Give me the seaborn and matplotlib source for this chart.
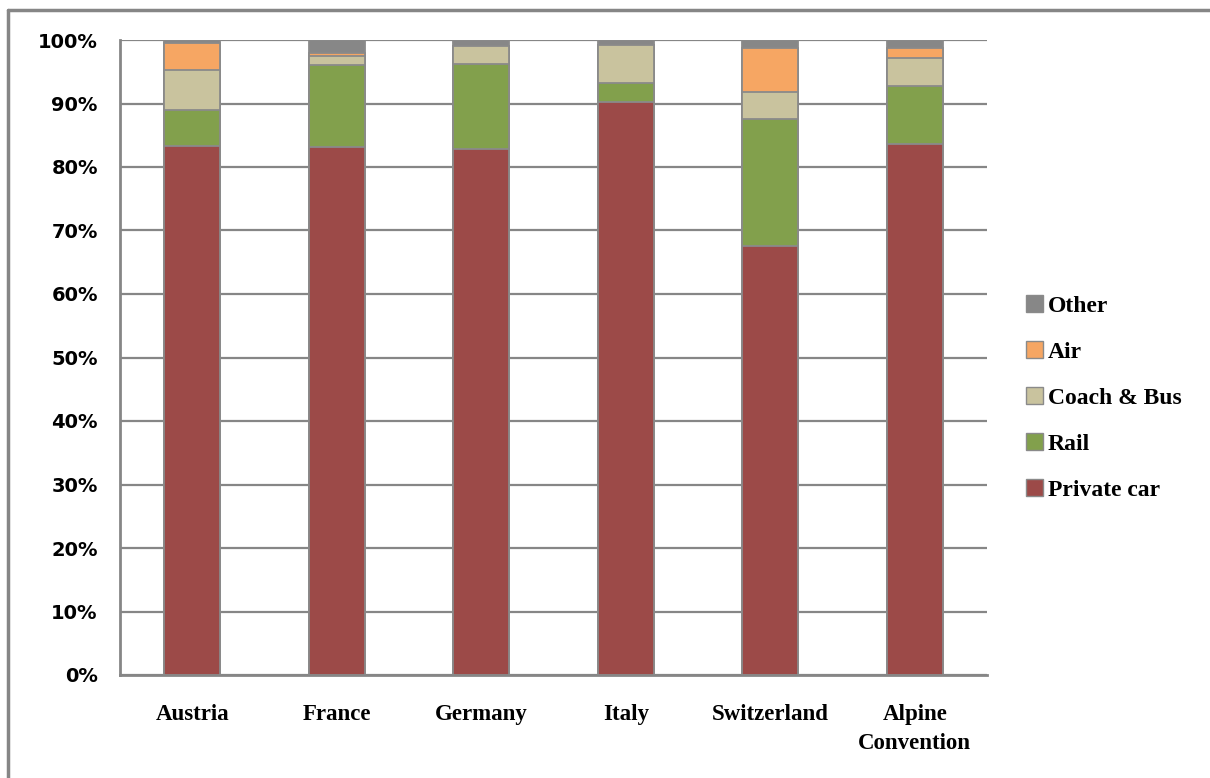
import numpy as np
import pandas as pd
import seaborn as sns
import matplotlib.pyplot as plt
from matplotlib.lines import Line2D
from matplotlib.patches import Patch
from matplotlib.ticker import FixedLocator, PercentFormatter

# Datos (cuota modal, %)
countries = ["Austria", "France", "Germany", "Italy", "Switzerland", "Alpine\nConvention"]
modes = ["Private car", "Rail", "Coach & Bus", "Air", "Other"]
private_car = [83.3, 83.1, 82.9, 90.2, 67.6, 83.7]
rail = [5.7, 12.9, 13.3, 3.1, 20.0, 9.1]
coach_bus = [6.2, 1.5, 2.8, 5.9, 4.2, 4.3]
air = [4.4, 0.4, 0.0, 0.0, 7.0, 1.7]
other = [0.4, 2.1, 1.0, 0.8, 1.2, 1.2]
colors = ["#9c4a48", "#82a04c", "#c9c39e", "#f6a663", "#878787"]

df = pd.DataFrame({"country": countries, "Private car": private_car, "Rail": rail,
                   "Coach & Bus": coach_bus, "Air": air, "Other": other})
cum = df[modes].cumsum(axis=1)
cum["country"] = countries

sns.set_style("white")
plt.rcParams["text.color"] = "black"
fig = plt.figure(figsize=(12.1, 7.78), dpi=100)
ax = fig.add_axes([120 / 1210, 1 - 675 / 778, 867 / 1210, 635 / 778])

grey = "#868686"
for m, c in reversed(list(zip(modes, colors))):
    sns.barplot(data=cum, x="country", y=m, order=countries, color=c, width=0.39,
                edgecolor="#8a8a8a", linewidth=1.3, saturation=1, ax=ax, zorder=3)

ax.set_xlim(-0.5, len(countries) - 0.5)
ax.set_ylim(0, 100)
ax.set_yticks(np.arange(0, 101, 10))
ax.yaxis.set_major_formatter(PercentFormatter(decimals=0))
ax.yaxis.grid(True, color=grey, linewidth=1.6, zorder=0)
ax.set_axisbelow(True)
ax.set_xlabel("")
ax.set_ylabel("")

for s in ["top", "right"]:
    ax.spines[s].set_visible(False)
for s in ["left", "bottom"]:
    ax.spines[s].set_color(grey)
    ax.spines[s].set_linewidth(2)

ax.tick_params(axis="y", length=7, width=1.6, color=grey, pad=9, labelsize=14, labelcolor="black")
for t in ax.get_yticklabels():
    t.set_fontweight("bold")
    t.set_family("DejaVu Sans")

ax.tick_params(axis="x", which="major", length=0, pad=21, labelcolor="black")
ax.xaxis.set_minor_locator(FixedLocator(np.arange(-0.5, len(countries), 1)))
ax.tick_params(axis="x", which="minor", length=8, width=1.6, color=grey)
ax.set_xticklabels(countries, fontsize=16.5, fontweight="bold", family="Liberation Serif",
                   va="top", linespacing=1.5)

handles = [Patch(facecolor=c, edgecolor="#8a8a8a", label=m) for m, c in zip(modes, colors)][::-1]
fig.legend(handles=handles, loc="center left", bbox_to_anchor=(1005 / 1210, 1 - 398 / 778),
           frameon=False, prop={"family": "Liberation Serif", "weight": "bold", "size": 17},
           handlelength=0.7, handleheight=0.7, handletextpad=0.2, labelspacing=1.04,
           labelcolor="black")

# marco exterior
fig.add_artist(Line2D([8 / 1210, 1], [1 - 10 / 778] * 2, color=grey, linewidth=2.5))
fig.add_artist(Line2D([8 / 1210] * 2, [0, 1 - 10 / 778], color=grey, linewidth=2.5))

fig.savefig("out.png", dpi=100)
